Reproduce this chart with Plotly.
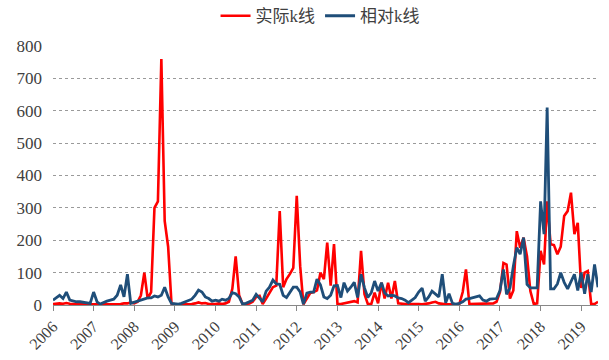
import plotly.graph_objects as go
import pandas as pd

months = pd.date_range("2006-01-01", "2019-06-01", freq="MS")

actual_k = [
    3, 5, 5, 4, 6, 4, 3, 3, 2, 2, 2, 2,            # 2006
    2, 2, 2, 2, 2, 2, 2, 2, 3, 5, 5, 8,            # 2007
    5, 10, 30, 100, 20, 40, 300, 320, 760, 260, 180, 5,  # 2008
    2, 2, 2, 2, 3, 3, 5, 8, 5, 6, 3, 2,            # 2009
    3, 5, 3, 5, 10, 50, 150, 30, 3, 3, 5, 10,      # 2010
    25, 28, 3, 20, 38, 55, 60, 290, 55, 80, 96, 115,   # 2011
    337, 120, 2, 20, 37, 40, 45, 100, 80, 193, 60, 188,  # 2012
    3, 3, 5, 8, 10, 12, 8, 167, 33, 3, 3, 38,      # 2013
    5, 69, 20, 69, 20, 74, 5, 3, 3, 3, 3, 5,       # 2014
    3, 2, 3, 5, 8, 10, 5, 3, 2, 2, 2, 3,           # 2015
    2, 40, 110, 3, 3, 3, 3, 5, 3, 5, 5, 10,        # 2016
    40, 130, 125, 20, 45, 228, 177, 208, 150, 43, 3, 5,  # 2017
    167, 125, 320, 188, 185, 157, 180, 275, 290, 347, 219, 254,  # 2018
    53, 100, 105, 3, 3, 10,                        # 2019
]

relative_k = [
    15, 22, 30, 20, 40, 15, 12, 10, 10, 8, 6, 5,   # 2006
    40, 10, 3, 8, 12, 15, 18, 30, 62, 25, 95, 5,   # 2007
    8, 12, 15, 18, 22, 22, 28, 25, 30, 55, 25, 5,  # 2008
    3, 3, 5, 10, 15, 18, 30, 46, 40, 25, 20, 12,   # 2009
    15, 12, 18, 15, 20, 38, 35, 25, 3, 5, 10, 15,  # 2010
    33, 20, 10, 43, 55, 77, 65, 64, 30, 23, 40, 55,  # 2011
    55, 40, 3, 37, 40, 40, 80, 62, 25, 20, 30, 59,   # 2012
    60, 23, 69, 43, 55, 70, 23, 95, 53, 23, 38, 74,  # 2013
    43, 69, 38, 28, 30, 28, 22, 20, 15, 7, 15, 23,   # 2014
    40, 52, 12, 25, 43, 33, 25, 95, 7, 35, 5, 3,     # 2015
    5, 10, 18, 20, 23, 25, 28, 15, 12, 18, 18, 20,   # 2016
    45, 110, 33, 53, 120, 177, 157, 208, 64, 53, 53, 53,  # 2017
    320, 219, 610, 50, 50, 65, 100, 70, 50, 75, 95, 45,   # 2018
    100, 35, 95, 40, 125, 55,                        # 2019
]

year_ticks = [f"{y}-01-01" for y in range(2006, 2020)]
year_labels = [str(y) for y in range(2006, 2020)]
y_ticks = list(range(0, 801, 100))

font_family = "Liberation Serif, Noto Sans CJK SC, serif"

fig = go.Figure()
fig.add_trace(go.Scatter(x=months, y=actual_k, mode="lines", name="实际k线",
                         line=dict(color="#ff0000", width=2.6)))
fig.add_trace(go.Scatter(x=months, y=relative_k, mode="lines", name="相对k线",
                         line=dict(color="#1f4e79", width=2.8)))

fig.update_layout(
    width=609, height=360,
    margin=dict(l=53, r=11, t=46, b=55, autoexpand=False),
    paper_bgcolor="white", plot_bgcolor="white",
    font=dict(family=font_family, size=16, color="#404040"),
    showlegend=True,
    legend=dict(orientation="h", x=0.49, xanchor="center",
                yref="container", y=0.955, yanchor="middle",
                font=dict(size=17, color="#404040"),
                tracegroupgap=0),
    xaxis=dict(
        range=[months[0], months[-1]],
        tickmode="array", tickvals=year_ticks, ticktext=year_labels,
        tickangle=-45, ticks="outside", ticklen=5, tickcolor="#888888",
        showline=True, linecolor="#888888", linewidth=1,
        showgrid=False, zeroline=False,
        tickfont=dict(size=16, color="#404040"),
    ),
    yaxis=dict(
        range=[0, 800], tickmode="array", tickvals=y_ticks,
        showgrid=True, gridcolor="#9a9a9a", griddash="dot", gridwidth=1,
        zeroline=False, showline=False, ticks="",
        tickfont=dict(size=17, color="#404040"),
        ticklabelstandoff=10,
    ),
)

fig.write_html("out.html")
